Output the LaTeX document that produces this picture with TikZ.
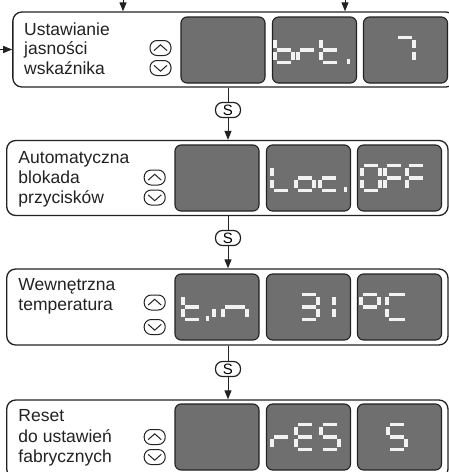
\documentclass[tikz,border=0pt]{standalone}
\usepackage{fontspec}
\setmainfont{Liberation Sans}
\usetikzlibrary{arrows.meta}
\definecolor{dispgray}{HTML}{6F6F6F}
\definecolor{segwhite}{HTML}{F2F2F2}
\definecolor{inkc}{HTML}{222222}
\tikzset{
 panel/.style={draw=inkc, line width=1.3pt, rounded corners=9pt, fill=white, inner sep=0pt},
 disp/.style={draw=inkc, line width=1.1pt, rounded corners=6pt, fill=dispgray, inner sep=0pt, minimum width=84pt, minimum height=66pt},
 seg/.style={draw=segwhite, line width=3.3pt},
 btn/.style={draw=inkc, line width=1pt, rounded corners=7pt, inner sep=0pt, minimum width=21pt, minimum height=15pt},
 chev/.style={draw=inkc, line width=1pt},
 sbox/.style={draw=inkc, line width=1.2pt, rounded corners=7pt, minimum width=25pt, minimum height=15pt, inner sep=0pt, font=\fontsize{15}{15}\selectfont},
 conn/.style={draw=inkc, line width=1pt},
 arr/.style={conn, -{Triangle[length=9pt,width=7pt]}},
 lbl/.style={anchor=base west, inner sep=0pt, font=\fontsize{17.5}{20}\selectfont, text=inkc}
}
\def\sgH{25}\def\sgG{2.2}
\newcommand\sgdigit[4][18]{\def\sgW{#1}\def\sgX{#2}\def\sgY{#3}#4}
\newcommand\sgA{\draw[seg] ({\sgX+\sgG},\sgY) -- ({\sgX+\sgW-\sgG},\sgY);}
\newcommand\sgB{\draw[seg] ({\sgX+\sgW},{\sgY+\sgG}) -- ({\sgX+\sgW},{\sgY+\sgH/2-\sgG});}
\newcommand\sgC{\draw[seg] ({\sgX+\sgW},{\sgY+\sgH/2+\sgG}) -- ({\sgX+\sgW},{\sgY+\sgH-\sgG});}
\newcommand\sgD{\draw[seg] ({\sgX+\sgG},{\sgY+\sgH}) -- ({\sgX+\sgW-\sgG},{\sgY+\sgH});}
\newcommand\sgE{\draw[seg] (\sgX,{\sgY+\sgH/2+\sgG}) -- (\sgX,{\sgY+\sgH-\sgG});}
\newcommand\sgF{\draw[seg] (\sgX,{\sgY+\sgG}) -- (\sgX,{\sgY+\sgH/2-\sgG});}
\newcommand\sgM{\draw[seg] ({\sgX+\sgG},{\sgY+\sgH/2}) -- ({\sgX+\sgW-\sgG},{\sgY+\sgH/2});}
\newcommand\sgP{\fill[segwhite] ({\sgX-0.5},{\sgY+\sgH-3.5}) rectangle ({\sgX+3},{\sgY+\sgH+1.5});}
\newcommand\updown[4]{%
  \node[btn] (#1u) at (#2,#3) {};
  \node[btn] (#1d) at (#2,#4) {};
  \draw[chev] ([xshift=-6.5pt,yshift=-2.6pt]#1u.center) -- ([yshift=3.2pt]#1u.center) -- ([xshift=6.5pt,yshift=-2.6pt]#1u.center);
  \draw[chev] ([xshift=-6.5pt,yshift=2.6pt]#1d.center) -- ([yshift=-3.2pt]#1d.center) -- ([xshift=6.5pt,yshift=2.6pt]#1d.center);
}
\begin{document}
\begin{tikzpicture}[x=1pt,y=-1pt]
\useasboundingbox (0,0) rectangle (449,472);
% panels
\node[panel, minimum width=442pt, minimum height=75pt] (p1) at (233.85,49.5) {};
\node[panel, minimum width=441.3pt, minimum height=75pt] (p2) at (227.35,178) {};
\node[panel, minimum width=441.3pt, minimum height=76pt] (p3) at (227.35,307) {};
\node[panel, minimum width=441.3pt, minimum height=78pt] (p4) at (227.35,439) {};
% displays
\node[disp] (d11) at (223,50) {};
\node[disp] (d12) at (314.5,50) {};
\node[disp] (d13) at (405.5,50) {};
\node[disp] (d21) at (217,178) {};
\node[disp] (d22) at (308.5,178) {};
\node[disp] (d23) at (399.5,178) {};
\node[disp] (d31) at (217,307) {};
\node[disp] (d32) at (308.5,307) {};
\node[disp] (d33) at (399.5,307) {};
\node[disp] (d41) at (217,437) {};
\node[disp] (d42) at (308.5,437) {};
\node[disp] (d43) at (399.5,437) {};
% digits box 1: brt. 7
\sgdigit{275}{37.5}{\sgC\sgD\sgE\sgF\sgM}
\sgdigit{298}{37.5}{\sgE\sgM}
\sgdigit{321}{37.5}{\sgD\sgE\sgF\sgM}
\sgdigit{347}{37.5}{\sgP}
\sgdigit{396}{37.5}{\sgA\sgB\sgC}
% box 2: Loc. OFF
\sgdigit{272}{165.5}{\sgD\sgE\sgF}
\sgdigit{296}{165.5}{\sgC\sgD\sgE\sgM}
\sgdigit{320}{165.5}{\sgD\sgE\sgM}
\sgdigit{344}{165.5}{\sgP}
\sgdigit{362}{165.5}{\sgA\sgB\sgC\sgD\sgE\sgF}
\sgdigit{385}{165.5}{\sgA\sgE\sgF\sgM}
\sgdigit{407}{165.5}{\sgA\sgE\sgF\sgM}
% box 3: t.in 31 °C
\sgdigit{183}{294.5}{\sgD\sgE\sgF\sgM}
\sgdigit{206}{294.5}{\sgP}
\sgdigit{214}{294.5}{\sgE}
\sgdigit[24]{223}{294.5}{\sgC\sgE\sgM}
\sgdigit{300}{294.5}{\sgA\sgB\sgC\sgD\sgM}
\sgdigit{316}{294.5}{\sgB\sgC}
\sgdigit{361}{294.5}{\sgA\sgB\sgF\sgM}
\sgdigit[20]{387}{294.5}{\sgA\sgD\sgE\sgF}
% box 4: rES 5
\sgdigit{272}{424.5}{\sgE\sgM}
\sgdigit{296}{424.5}{\sgA\sgD\sgE\sgF\sgM}
\sgdigit{321}{424.5}{\sgA\sgC\sgD\sgF\sgM}
\sgdigit{388}{424.5}{\sgA\sgC\sgD\sgF\sgM}
% buttons
\updown{b1}{160.5}{48}{68}
\updown{b2}{154.7}{177.5}{197.5}
\updown{b3}{154.7}{302.5}{327}
\updown{b4}{154.7}{437}{457}
% labels
\node[lbl] (l11) at (24,35) {Ustawianie};
\node[lbl] (l12) at (24,54.5) {jasności};
\node[lbl] (l13) at (24,74) {wskaźnika};
\node[lbl] (l21) at (18.3,163) {Automatyczna};
\node[lbl] (l22) at (18.3,183) {blokada};
\node[lbl] (l23) at (18.3,203) {przycisków};
\node[lbl] (l31) at (18.3,290) {Wewnętrzna};
\node[lbl] (l32) at (18.3,310) {temperatura};
\node[lbl] (l41) at (18.3,421.5) {Reset};
\node[lbl] (l42) at (18.3,442.5) {do ustawień};
\node[lbl] (l43) at (18.3,462) {fabrycznych};
% S nodes
\node[sbox] (s1) at (228,110) {S};
\node[sbox] (s2) at (228,238) {S};
\node[sbox] (s3) at (228,369) {S};
% connectors
\coordinate (in1) at (123,0);
\coordinate (in2) at (345,0);
\coordinate (in3) at (0,49.5);
\draw[arr] (in1) -- (in1 |- p1.north);
\draw[arr] (in2) -- (in2 |- p1.north);
\draw[arr] (in3) -- (in3 -| p1.west);
\draw[conn] (s1 |- p1.south) -- (s1);
\draw[arr] (s1) -- (s1 |- p2.north);
\draw[conn] (s2 |- p2.south) -- (s2);
\draw[arr] (s2) -- (s2 |- p3.north);
\draw[conn] (s3 |- p3.south) -- (s3);
\draw[arr] (s3) -- (s3 |- p4.north);
\end{tikzpicture}
\end{document}
